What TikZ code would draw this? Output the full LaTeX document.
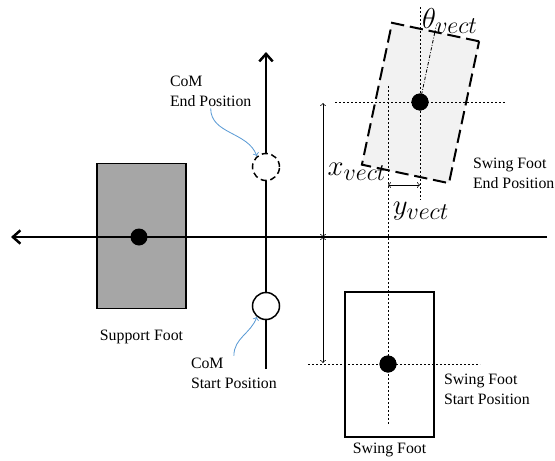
\documentclass[tikz,border=0pt]{standalone}
\usepackage{fontspec}
\setmainfont{Liberation Serif}
\usepackage{amsmath}
\usetikzlibrary{positioning, arrows, arrows.meta}
\definecolor{comblue}{RGB}{91,155,213}
\definecolor{footgray}{RGB}{166,166,166}
\definecolor{endgray}{RGB}{242,242,242}
\tikzset{
    axis/.style={line width=1.5pt, -{Straight Barb[length=4.5pt, width=8pt]}}, % the two thick axes
    foot/.style={draw, line width=0.9pt, minimum width=53.4pt, minimum height=87pt, inner sep=0pt}, % a foot print
    endfoot/.style={fill=endgray, line width=1.2pt, dash pattern=on 8pt off 3.5pt}, % the foot where the swing ends
    footdot/.style={circle, fill=black, minimum size=10.2pt, inner sep=0pt}, % centre of a foot
    com/.style={circle, draw, fill=white, line width=0.9pt, minimum size=16.2pt, inner sep=0pt}, % centre of mass
    guide/.style={line width=0.5pt, dash pattern=on 1.2pt off 1.2pt}, % thin dotted help lines
    thetaline/.style={line width=0.5pt, dash pattern=on 2pt off 1pt on 0.5pt off 1pt}, % the turned foot axis
    dim/.style={line width=0.4pt, to-to}, % measure arrows
    note/.style={align=left, inner sep=1pt, font=\fontsize{9.5pt}{12pt}\selectfont}, % the small texts
    mathlbl/.style={font=\fontsize{19pt}{22pt}\selectfont}, % the big measure names
    pointer/.style={comblue, line width=0.5pt, -to}, % blue arrows from the notes
}

\begin{document}
\begin{tikzpicture}[x=0.6pt, y=0.6pt]
    \useasboundingbox (0,0) rectangle (555,-461);
    % feet
    \node[foot, fill=footgray] (sup) at (141.5,-236) {};
    \node[foot] (swing) at (389.5,-364.5) {};
    \node[foot, endfoot, rotate=-12] (swingend) at (420.5,-103) {};
    % axes
    \coordinate (xr) at (547,-237);
    \coordinate (xl) at (11,-237);
    \coordinate (yb) at (266,-369);
    \coordinate (yt) at (266,-52);
    \draw[axis] (xr) -- (xl);
    \draw[axis] (yb) -- (yt);
    % foot centres
    \node[footdot] (supdot) at (139,-237) {};
    \node[footdot] (swingdot) at (388,-364) {};
    \node[footdot] (enddot) at (420,-102) {};
    % help lines
    \draw[guide] (enddot.center) ++(-85,0) -- ++(171,0);
    \draw[guide] (enddot.center) ++(0,95) -- ++(0,-193);
    \draw[guide] (swingdot.center) ++(0,278) -- ++(0,-339);
    \draw[guide] (swingdot.center) ++(-80,0) -- ++(172,0);
    \draw[thetaline] (enddot.center) -- ++(78:76);
    \node[footdot] at (enddot) {};
    \node[footdot] at (swingdot) {};
    % centre of mass
    \node[com, dash pattern=on 3.6pt off 2.2pt] (comend) at (266,-167) {};
    \node[com] (comstart) at (266,-306) {};
    % measures
    \coordinate (dtop) at (323,-103);
    \coordinate (dmid) at (323,-237);
    \coordinate (dbot) at (323,-363);
    \draw[dim] (dtop) -- (dmid);
    \draw[dim] (dmid) -- (dbot);
    \coordinate (yleft) at (388,-185);
    \coordinate (yright) at (420,-185);
    \draw[dim] (yleft) -- (yright);
    \node[mathlbl] (xlbl) at (357,-172) {$x_{vect}$};
    \node[mathlbl] (ylbl) at (421,-211) {$y_{vect}$};
    \node[mathlbl] (tlbl) at (450,-21) {$\theta_{vect}$};
    % texts
    \node[note, anchor=west] (endlbl) at (168,-91) {CoM\\End Position};
    \node[note, anchor=west] (startlbl) at (189,-373) {CoM\\Start Position};
    \node[note, anchor=west] (swendlbl) at (471,-173) {Swing Foot\\End Position};
    \node[note, anchor=west] (swstartlbl) at (442,-389) {Swing Foot\\Start Position};
    \node[note, below=11pt of sup] (suplbl) {Support Foot};
    \node[note, below=2pt of swing] (swinglbl) {Swing Foot};
    \draw[pointer] (endlbl.south) to[out=-90, in=110] (comend.130);
    \draw[pointer] (startlbl.north) to[out=90, in=-110] (comstart.-130);
\end{tikzpicture}
\end{document}
